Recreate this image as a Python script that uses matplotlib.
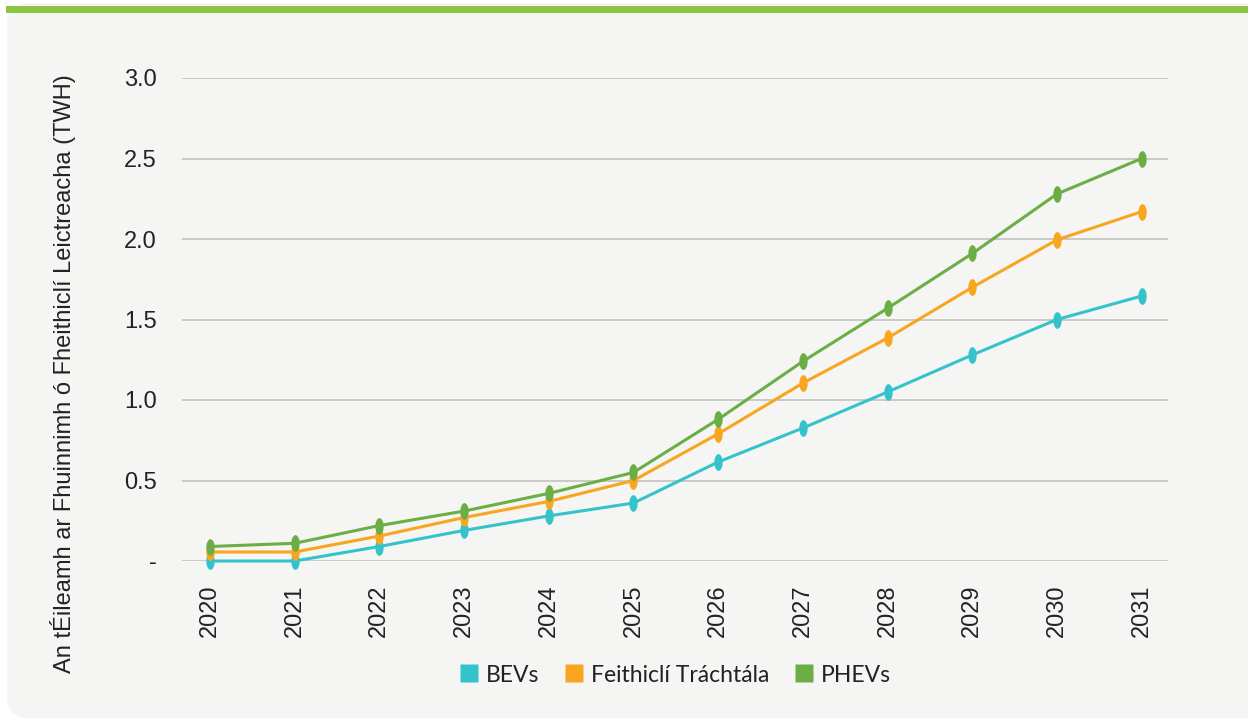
import matplotlib
matplotlib.use("Agg")
import matplotlib.pyplot as plt
from matplotlib.patches import FancyBboxPatch, Rectangle
from matplotlib.path import Path
from matplotlib.lines import Line2D
import numpy as np

years = ["2020", "2021", "2022", "2023", "2024", "2025", "2026", "2027", "2028", "2029", "2030", "2031"]
bevs = [0.0, 0.0, 0.09, 0.19, 0.28, 0.36, 0.615, 0.826, 1.05, 1.28, 1.50, 1.646]
feithicli = [0.056, 0.056, 0.155, 0.27, 0.37, 0.50, 0.79, 1.105, 1.385, 1.70, 1.995, 2.17]
phevs = [0.09, 0.11, 0.22, 0.31, 0.42, 0.55, 0.88, 1.24, 1.57, 1.91, 2.28, 2.50]
yticks = [0.0, 0.5, 1.0, 1.5, 2.0, 2.5, 3.0]
ytick_labels = ["-", "0.5", "1.0", "1.5", "2.0", "2.5", "3.0"]
series_names = ["BEVs", "Feithiclí Tráchtála", "PHEVs"]
colors = ["#35c3cb", "#f8a61f", "#6bae45"]

W, H = 1248, 720
fig = plt.figure(figsize=(W / 100, H / 100), dpi=100)
fig.patch.set_facecolor("white")

# panel background
panel = FancyBboxPatch((7, 2), W + 40, H - 13 - 2 + 10,
                       boxstyle="round,pad=0,rounding_size=22",
                       transform=None, facecolor="#f5f5f4", edgecolor="none", zorder=-2)
fig.patches.append(panel)
bar = Rectangle((6 / W, 1 - 13 / H), 1, 7 / H, transform=fig.transFigure,
                facecolor="#8bc541", edgecolor="none", zorder=-1)
fig.patches.append(bar)

ax = fig.add_axes([182 / W, 1 - 561 / H, (1168 - 182) / W, (561 - 78) / H])
ax.set_facecolor("none")
ax.set_zorder(2)

# tall ellipse marker
t = np.linspace(0, 2 * np.pi, 60)
ell = Path(np.column_stack([0.5 * np.cos(t), np.sin(t)]), closed=True)

x = np.arange(len(years))
for vals, c in zip([bevs, feithicli, phevs], colors):
    ax.plot(x, vals, color=c, lw=2.2, marker=ell, markersize=12, markeredgewidth=0,
            markerfacecolor=c, zorder=3, clip_on=False)

ax.set_xlim(-0.33, len(years) - 1 + 0.31)
ax.set_ylim(0, 3.0)
ax.set_yticks(yticks)
ax.set_yticklabels(ytick_labels, fontsize=17, family="Liberation Sans", color="#222222")
ax.set_xticks(x)
ax.set_xticklabels(years, rotation=90, fontsize=17, family="Liberation Sans", color="#222222")
ax.tick_params(axis="both", length=0)
ax.tick_params(axis="y", pad=18)
ax.tick_params(axis="x", pad=17)
for s in ax.spines.values():
    s.set_visible(False)
ax.grid(axis="y", color="#bdbdbd", lw=1.1)
ax.set_axisbelow(True)

fig.text(63 / W, 1 - 374 / H, "An tÉileamh ar Fhuinnimh ó Fheithiclí Leictreacha (TWH)",
         rotation=90, ha="center", va="center", fontsize=17, family="Liberation Sans", color="#222222")

handles = [Line2D([], [], marker="s", linestyle="none", markersize=12.5, markerfacecolor=c,
                  markeredgecolor="none") for c in colors]
leg = fig.legend(handles, series_names, loc="center", bbox_to_anchor=(675 / W, 1 - 675 / H),
                 ncol=3, frameon=False, prop={"family": "Lato", "size": 16.5},
                 handletextpad=0.3, columnspacing=1.05, handlelength=0.9)
for tx in leg.get_texts():
    tx.set_color("#222222")

fig.savefig("out.png", dpi=100, facecolor=fig.get_facecolor())
